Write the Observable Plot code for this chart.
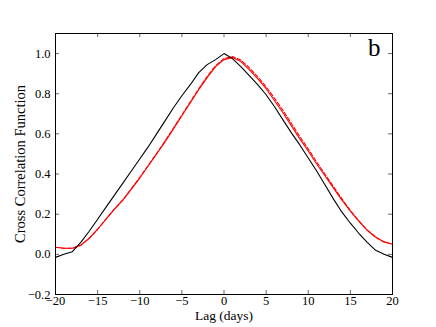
<!DOCTYPE html>
<html>
<head>
<meta charset="utf-8">
<script src="https://cdn.jsdelivr.net/npm/d3@7"></script>
<script src="https://cdn.jsdelivr.net/npm/@observablehq/plot@0.6"></script>
<style>
  html, body { margin: 0; padding: 0; background: #fff; }
  #chart { width: 436px; height: 327px; }
</style>
</head>
<body>
<div id="chart"></div>
<script>
const lags = d3.range(-20, 21);
const blackValues = [-0.015, 0.0, 0.013, 0.06, 0.115, 0.175, 0.235, 0.295, 0.355, 0.415,
  0.475, 0.535, 0.6, 0.665, 0.73, 0.79, 0.845, 0.905, 0.945, 0.97,
  1.0, 0.975, 0.935, 0.89, 0.845, 0.795, 0.735, 0.67, 0.605, 0.545,
  0.48, 0.415, 0.345, 0.275, 0.21, 0.155, 0.105, 0.06, 0.02, 0.0, -0.015];
const redSolidValues = [0.035, 0.03, 0.03, 0.045, 0.08, 0.125, 0.175, 0.225, 0.27, 0.325,
  0.38, 0.44, 0.5, 0.56, 0.625, 0.69, 0.755, 0.82, 0.88, 0.935,
  0.97, 0.98, 0.96, 0.92, 0.875, 0.825, 0.765, 0.705, 0.64, 0.575,
  0.515, 0.45, 0.39, 0.33, 0.27, 0.215, 0.165, 0.12, 0.085, 0.062, 0.05];
const redDashedValues = [0.035, 0.03, 0.03, 0.045, 0.08, 0.125, 0.176, 0.226, 0.272, 0.327,
  0.383, 0.443, 0.503, 0.564, 0.629, 0.694, 0.76, 0.825, 0.886, 0.94,
  0.975, 0.985, 0.968, 0.93, 0.885, 0.835, 0.777, 0.717, 0.652, 0.587,
  0.525, 0.46, 0.398, 0.337, 0.276, 0.218, 0.167, 0.121, 0.086, 0.062, 0.05];
const xTicks = [-20, -15, -10, -5, 0, 5, 10, 15, 20];
const yTicks = [-0.2, 0.0, 0.2, 0.4, 0.6, 0.8, 1.0];
const panelLabel = "b";
const xLabel = "Lag (days)";
const yLabel = "Cross Correlation Function";

const black = lags.map((x, i) => ({x, y: blackValues[i]}));
const redSolid = lags.map((x, i) => ({x, y: redSolidValues[i]}));
const redDashed = lags.map((x, i) => ({x, y: redDashedValues[i]}));

const W = 436, H = 327, mL = 55, mR = 44, mT = 33, mB = 33;
const plotW = W - mL - mR, plotH = H - mT - mB;
const tickLen = 4;
const minus = v => (v < 0 ? "\u2212" : "") + Math.abs(v);
const fmtY = v => (v < 0 ? "\u2212" : "") + Math.abs(v).toFixed(1);

const chart = Plot.plot({
  width: W, height: H,
  marginLeft: mL, marginRight: mR, marginTop: mT, marginBottom: mB,
  style: {fontFamily: "'Liberation Serif', 'DejaVu Serif', serif", fontSize: "12.5px", background: "white", color: "black"},
  x: {domain: [-20, 20]},
  y: {domain: [-0.2, 1.1]},
  marks: [
    Plot.line(redDashed, {x: "x", y: "y", stroke: "#ff0000", strokeWidth: 1.1, strokeDasharray: "4,2"}),
    Plot.line(redSolid, {x: "x", y: "y", stroke: "#ff0000", strokeWidth: 1.1}),
    Plot.line(black, {x: "x", y: "y", stroke: "black", strokeWidth: 1.1}),
    // inward ticks
    Plot.tickX(xTicks, {x: d => d, stroke: "black", strokeWidth: 0.6, insetTop: plotH - tickLen}),
    Plot.tickX(xTicks, {x: d => d, stroke: "black", strokeWidth: 0.6, insetBottom: plotH - tickLen}),
    Plot.tickY(yTicks, {y: d => d, stroke: "black", strokeWidth: 0.6, insetRight: plotW - tickLen}),
    Plot.tickY(yTicks, {y: d => d, stroke: "black", strokeWidth: 0.6, insetLeft: plotW - tickLen}),
    Plot.axisX(xTicks, {tickSize: 0, tickPadding: 2, tickFormat: minus, label: null, fontSize: 12.5}),
    Plot.axisY(yTicks, {tickSize: 0, tickPadding: 5, tickFormat: fmtY, label: null, fontSize: 12.5}),
    Plot.frame({stroke: "black", strokeWidth: 1}),
    Plot.text([xLabel], {text: d => d, frameAnchor: "bottom", dy: 25, fontSize: 13.5}),
    Plot.text([yLabel], {text: d => d, frameAnchor: "left", textAnchor: "middle", dx: -35, rotate: -90, fontSize: 14.5}),
    Plot.text([panelLabel], {text: d => d, frameAnchor: "top-right", dx: -12, dy: 5, fontSize: 25, lineAnchor: "top"})
  ]
});
document.getElementById("chart").appendChild(chart);
</script>
</body>
</html>
